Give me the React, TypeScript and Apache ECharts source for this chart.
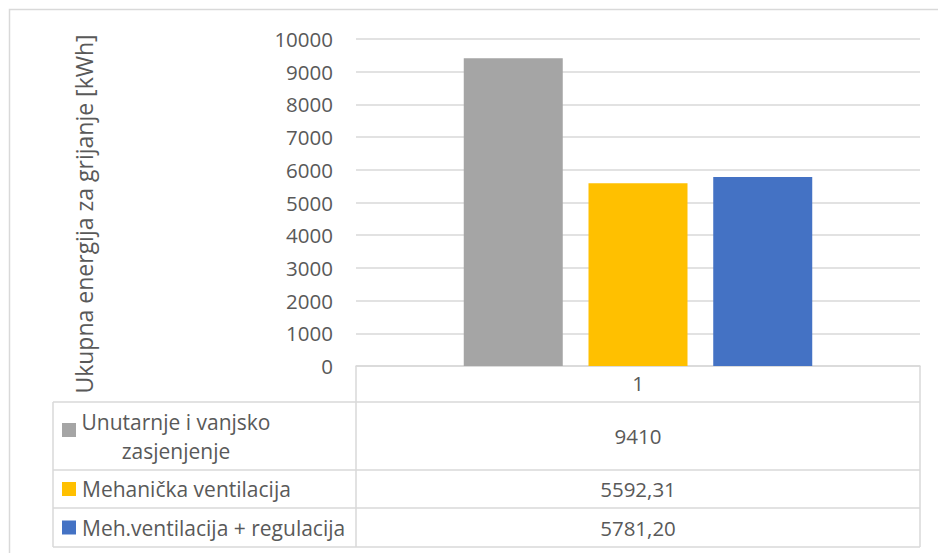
import React, { useEffect, useRef } from "react";
import * as echarts from "echarts";

const categories = ["1"];
const seriesNames = [
  "Unutarnje i vanjsko\nzasjenjenje",
  "Mehanička ventilacija",
  "Meh.ventilacija + regulacija",
];
const seriesValues = [9410, 5592.31, 5781.2];
const seriesDecimals = [0, 2, 2];
const seriesColors = ["#A5A5A5", "#FFC000", "#4472C4"];
const yTicks = [0, 1000, 2000, 3000, 4000, 5000, 6000, 7000, 8000, 9000, 10000];
const yTitle = "Ukupna energija za grijanje [kWh]";

const FONT = "'Open Sans', sans-serif";
const TXT = "#595959";
const LINE = "#D9D9D9";
const FS = 20.5;
const TFS = 21;

function fmt(v: number, d: number) {
  return v.toFixed(d).replace(".", ",");
}

export default function App() {
  const ref = useRef<HTMLDivElement>(null);
  useEffect(() => {
    if (!ref.current) return;
    const chart = echarts.init(ref.current, undefined, { renderer: "svg" });

    const gl = 356, gr = 920, gTop = 39, gBottom = 366;
    const rows = [402, 470, 508, 547];
    const tl = 53;
    const rowCenters = [436, 489, 527.5];
    const graphics: any[] = [];
    graphics.push({
      type: "rect",
      shape: { x: 9.5, y: 9.5, width: 1000, height: 1000 },
      style: { fill: "none", stroke: LINE, lineWidth: 1.5 },
      silent: true,
    });
    const hl = (x1: number, x2: number, y: number) =>
      graphics.push({ type: "line", shape: { x1, y1: y, x2, y2: y }, style: { stroke: LINE, lineWidth: 1.5 }, silent: true });
    const vl = (x: number, y1: number, y2: number) =>
      graphics.push({ type: "line", shape: { x1: x, y1, x2: x, y2 }, style: { stroke: LINE, lineWidth: 1.5 }, silent: true });
    rows.forEach((y) => hl(tl, gr, y));
    vl(gl, gBottom, rows[3]);
    vl(gr, gBottom, rows[3]);
    vl(tl, rows[0], rows[3]);

    seriesNames.forEach((name, i) => {
      const cy = rowCenters[i];
      const lines = name.split("\n");
      const lh = 29;
      const cx = 176;
      if (lines.length > 1) {
        graphics.push({
          type: "rect",
          shape: { x: 62, y: cy - 13, width: 14, height: 14 },
          style: { fill: seriesColors[i] },
        });
        graphics.push({
          type: "text",
          x: cx,
          y: cy,
          style: { text: name, align: "center", verticalAlign: "middle", fontSize: TFS, lineHeight: lh, fontFamily: FONT, fill: TXT },
        });
      } else {
        graphics.push({
          type: "rect",
          shape: { x: 62, y: cy - 7, width: 14, height: 14 },
          style: { fill: seriesColors[i] },
        });
        graphics.push({
          type: "text",
          x: 82,
          y: cy,
          style: { text: name, align: "left", verticalAlign: "middle", fontSize: TFS, fontFamily: FONT, fill: TXT },
        });
      }
      graphics.push({
        type: "text",
        x: (gl + gr) / 2,
        y: cy,
        style: { text: fmt(seriesValues[i], seriesDecimals[i]), align: "center", verticalAlign: "middle", fontSize: FS, fontFamily: FONT, fill: TXT },
      });
    });
    graphics.push({
      type: "text",
      x: 84,
      y: 214,
      rotation: Math.PI / 2,
      style: { text: yTitle, align: "center", verticalAlign: "middle", fontSize: 23, fontFamily: FONT, fill: TXT },
    });

    chart.setOption({
      animation: false,
      textStyle: { fontFamily: FONT },
      grid: { left: gl, right: 938 - gr, top: gTop, bottom: 553 - gBottom, containLabel: false },
      xAxis: {
        type: "category",
        data: categories,
        axisLine: { show: true, lineStyle: { color: LINE, width: 1.5 } },
        axisTick: { show: false },
        axisLabel: { color: TXT, fontSize: FS, margin: 6, fontFamily: FONT },
      },
      yAxis: {
        type: "value",
        min: yTicks[0],
        max: yTicks[yTicks.length - 1],
        interval: 1000,
        axisLine: { show: false },
        axisTick: { show: false },
        axisLabel: { color: TXT, fontSize: FS, margin: 23, fontFamily: FONT, formatter: (v: number) => String(v) },
        splitLine: { lineStyle: { color: LINE, width: 1.5 } },
      },
      series: seriesNames.map((n, i) => ({
        type: "bar",
        name: n,
        data: [seriesValues[i]],
        barWidth: 99,
        barGap: "26%",
        itemStyle: { color: seriesColors[i] },
      })),
      graphic: graphics,
    });
    return () => chart.dispose();
  }, []);
  return <div ref={ref} style={{ position: "fixed", left: 0, top: 0, width: 938, height: 553, background: "#fff" }} />;
}
